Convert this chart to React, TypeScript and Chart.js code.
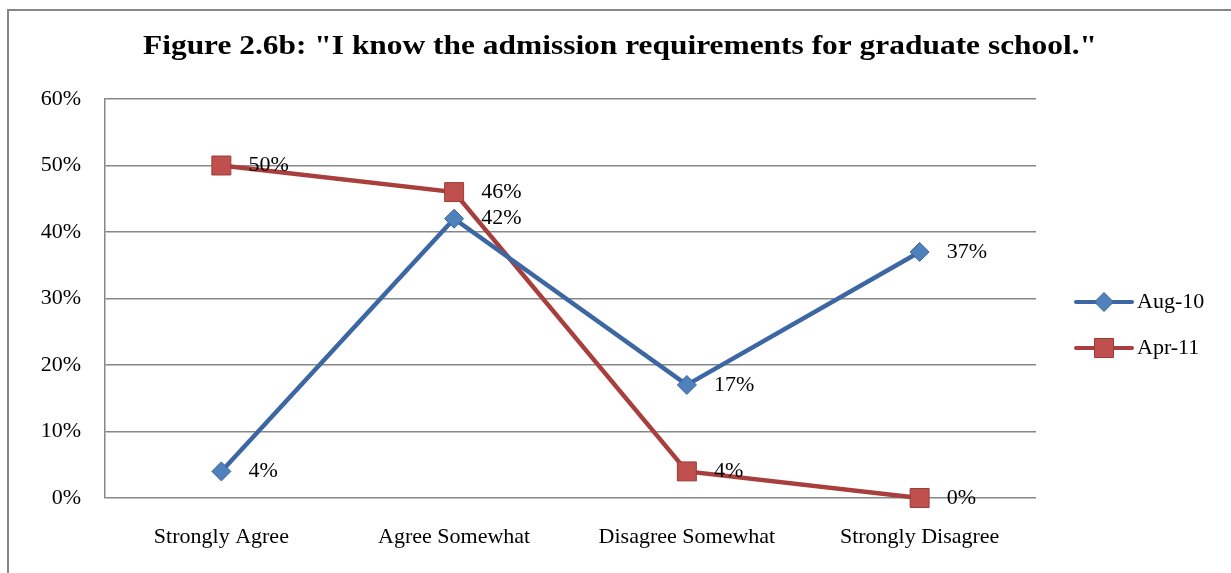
import React, { useEffect, useRef } from "react";
import { Chart, registerables } from "chart.js";

Chart.register(...registerables);

const title = 'Figure 2.6b: "I know the admission requirements for graduate school."';
const categories = ["Strongly Agree", "Agree Somewhat", "Disagree Somewhat", "Strongly Disagree"];
const aug10 = [4, 42, 17, 37];
const apr11 = [50, 46, 4, 0];
const seriesLabels = ["Aug-10", "Apr-11"];
const yTicks = [0, 10, 20, 30, 40, 50, 60];

const FONT = '"Liberation Serif", "DejaVu Serif", serif';
const FS = 22;

const framePlugin = {
  id: "frame",
  beforeDraw(chart: any) {
    const ctx = chart.ctx;
    ctx.save();
    ctx.fillStyle = "#ffffff";
    ctx.fillRect(0, 0, chart.width, chart.height);
    ctx.strokeStyle = "#868686";
    ctx.lineWidth = 2;
    ctx.beginPath();
    ctx.moveTo(8, chart.height + 2);
    ctx.lineTo(8, 10);
    ctx.lineTo(chart.width + 2, 10);
    ctx.stroke();
    ctx.restore();
  },
};

const titlePlugin = {
  id: "customTitle",
  afterDraw(chart: any) {
    const ctx = chart.ctx;
    ctx.save();
    ctx.fillStyle = "#000";
    ctx.font = `bold 28px ${FONT}`;
    ctx.textAlign = "center";
    ctx.textBaseline = "middle";
    const w = ctx.measureText(title).width;
    const target = 954;
    ctx.translate(620, 47);
    ctx.scale(target / w, 1);
    ctx.fillText(title, 0, 0);
    ctx.restore();
  },
};

const labelPlugin = {
  id: "dataLabels",
  afterDatasetsDraw(chart: any) {
    const ctx = chart.ctx;
    ctx.save();
    ctx.fillStyle = "#000";
    ctx.font = `${FS}px ${FONT}`;
    ctx.textAlign = "left";
    ctx.textBaseline = "middle";
    chart.data.datasets.forEach((ds: any, i: number) => {
      const meta = chart.getDatasetMeta(i);
      meta.data.forEach((pt: any, j: number) => {
        ctx.fillText(`${ds.data[j]}%`, pt.x + 27, pt.y);
      });
    });
    ctx.restore();
  },
};

const legendPlugin = {
  id: "customLegend",
  afterDraw(chart: any) {
    const ctx = chart.ctx;
    const x0 = 1076;
    const x1 = 1132;
    const ys = [302, 348];
    chart.data.datasets.forEach((ds: any, i: number) => {
      const y = ys[i];
      ctx.save();
      ctx.strokeStyle = ds.borderColor;
      ctx.lineWidth = 4;
      ctx.lineCap = "round";
      ctx.beginPath();
      ctx.moveTo(x0, y);
      ctx.lineTo(x1, y);
      ctx.stroke();
      ctx.restore();
      ctx.save();
      ctx.fillStyle = ds.pointBackgroundColor;
      ctx.strokeStyle = ds.pointBorderColor;
      ctx.lineWidth = 1;
      const cx = (x0 + x1) / 2;
      if (ds.pointStyle === "rectRot") {
        const r = 9.5;
        ctx.beginPath();
        ctx.moveTo(cx, y - r);
        ctx.lineTo(cx + r, y);
        ctx.lineTo(cx, y + r);
        ctx.lineTo(cx - r, y);
        ctx.closePath();
      } else {
        const s = 9.5;
        ctx.beginPath();
        ctx.rect(cx - s, y - s, 2 * s, 2 * s);
      }
      ctx.fill();
      ctx.stroke();
      ctx.restore();
      ctx.save();
      ctx.fillStyle = "#000";
      ctx.font = `${FS}px ${FONT}`;
      ctx.textAlign = "left";
      ctx.textBaseline = "middle";
      ctx.fillText(ds.label, 1137, y);
      ctx.restore();
    });
  },
};

export default function App() {
  const ref = useRef<HTMLCanvasElement | null>(null);
  useEffect(() => {
    if (!ref.current) return;
    const chart = new Chart(ref.current, {
      type: "line",
      data: {
        labels: categories,
        datasets: [
          {
            label: seriesLabels[0],
            data: aug10,
            borderColor: "#3D67A3",
            borderWidth: 4.5,
            pointStyle: "rectRot",
            pointRadius: 9.5,
            pointBackgroundColor: "#4F81BD",
            pointBorderColor: "#3B6499",
            pointBorderWidth: 1,
            tension: 0,
            clip: false,
          },
          {
            label: seriesLabels[1],
            data: apr11,
            borderColor: "#A83F3C",
            borderWidth: 4.5,
            pointStyle: "rect",
            pointRadius: 13.4,
            pointBackgroundColor: "#C0504D",
            pointBorderColor: "#9A3B39",
            pointBorderWidth: 1,
            tension: 0,
            clip: false,
          },
        ] as any,
      },
      options: {
        animation: false,
        responsive: false,
        layout: { padding: { left: 0, right: 195, top: 99, bottom: 0 } },
        plugins: {
          legend: { display: false },
          title: { display: false },
          tooltip: { enabled: false },
        },
        scales: {
          x: {
            offset: true,
            grid: { display: false, drawTicks: false },
            border: { display: false },
            ticks: {
              color: "#000",
              font: { family: FONT, size: FS },
              padding: 26,
              maxRotation: 0,
            },
            afterFit: (s: any) => {
              s.height = 75;
            },
          },
          y: {
            min: 0,
            max: 60,
            afterBuildTicks: (s: any) => {
              s.ticks = yTicks.map((v) => ({ value: v }));
            },
            grid: { color: "#878787", lineWidth: 1.5, drawTicks: false },
            border: { display: true, color: "#878787", width: 1.5 },
            ticks: {
              color: "#000",
              font: { family: FONT, size: FS },
              padding: 24,
              callback: (v: any) => `${v}%`,
            },
            afterFit: (s: any) => {
              s.width = 105;
            },
          },
        },
      },
      plugins: [framePlugin, titlePlugin, labelPlugin, legendPlugin],
    });
    return () => chart.destroy();
  }, []);
  return (
    <div style={{ position: "absolute", left: 0, top: 0, width: 1231, height: 573 }}>
      <canvas ref={ref} width={1231} height={573} style={{ width: 1231, height: 573, display: "block" }} />
    </div>
  );
}
